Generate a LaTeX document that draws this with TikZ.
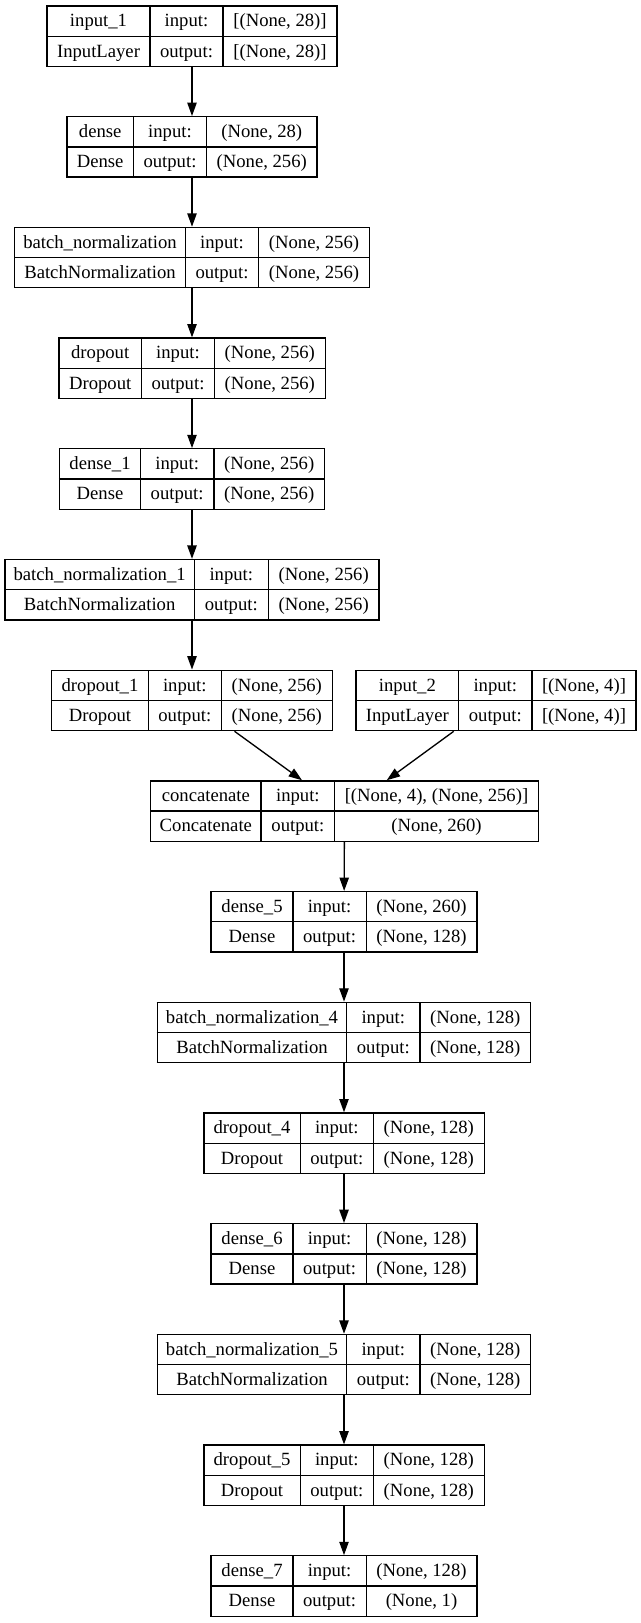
\documentclass[tikz,border=0pt]{standalone}
\usepackage{fontspec}
\setmainfont{Liberation Serif}
\usepackage{array}
\usetikzlibrary{arrows.meta}
\setlength\tabcolsep{0pt}
\setlength\arrayrulewidth{1pt}
\renewcommand\arraystretch{1.289}

\begin{document}
\begin{tikzpicture}[
  x=0.75pt, y=-0.75pt,
  font=\fontsize{14}{16.8}\selectfont,
  layer/.style={inner sep=0pt, outer sep=0pt},
  arr/.style={-{Triangle[length=10pt, width=7pt]}, line width=1pt}
]
  \useasboundingbox (0,0) rectangle (641,1623);

  \node[layer] (input1) at (192,36.2) {\begin{tabular}{|w{c}{76.25pt}|w{c}{53.75pt}|w{c}{84.5pt}|}\hline
    input\_1 & input: & [(None, 28)]\\\hline
    InputLayer & output: & [(None, 28)]\\\hline\end{tabular}};
  \node[layer] (dense) at (192,146.9) {\begin{tabular}{|w{c}{48.7pt}|w{c}{54pt}|w{c}{81.7pt}|}\hline
    dense & input: & (None, 28)\\\hline
    Dense & output: & (None, 256)\\\hline\end{tabular}};
  \node[layer] (bn) at (192,257.6) {\begin{tabular}{|w{c}{127pt}|w{c}{54pt}|w{c}{82pt}|}\hline
    batch\_normalization & input: & (None, 256)\\\hline
    BatchNormalization & output: & (None, 256)\\\hline\end{tabular}};
  \node[layer] (dropout) at (192,368.3) {\begin{tabular}{|w{c}{61pt}|w{c}{53.75pt}|w{c}{82pt}|}\hline
    dropout & input: & (None, 256)\\\hline
    Dropout & output: & (None, 256)\\\hline\end{tabular}};
  \node[layer] (dense1) at (192,479) {\begin{tabular}{|w{c}{59.75pt}|w{c}{54pt}|w{c}{82pt}|}\hline
    dense\_1 & input: & (None, 256)\\\hline
    Dense & output: & (None, 256)\\\hline\end{tabular}};
  \node[layer] (bn1) at (192,589.7) {\begin{tabular}{|w{c}{141pt}|w{c}{54.5pt}|w{c}{82pt}|}\hline
    batch\_normalization\_1 & input: & (None, 256)\\\hline
    BatchNormalization & output: & (None, 256)\\\hline\end{tabular}};
  \node[layer] (dropout1) at (192,700.4) {\begin{tabular}{|w{c}{71.5pt}|w{c}{53.75pt}|w{c}{82.25pt}|}\hline
    dropout\_1 & input: & (None, 256)\\\hline
    Dropout & output: & (None, 256)\\\hline\end{tabular}};
  \node[layer] (input2) at (496,700.4) {\begin{tabular}{|w{c}{76pt}|w{c}{54pt}|w{c}{77pt}|}\hline
    input\_2 & input: & [(None, 4)]\\\hline
    InputLayer & output: & [(None, 4)]\\\hline\end{tabular}};
  \node[layer] (concat) at (344.5,811.1) {\begin{tabular}{|w{c}{81.75pt}|w{c}{54.25pt}|w{c}{151.7pt}|}\hline
    concatenate & input: & [(None, 4), (None, 256)]\\\hline
    Concatenate & output: & (None, 260)\\\hline\end{tabular}};
  \node[layer] (dense5) at (344,921.8) {\begin{tabular}{|w{c}{60.3pt}|w{c}{54pt}|w{c}{82pt}|}\hline
    dense\_5 & input: & (None, 260)\\\hline
    Dense & output: & (None, 128)\\\hline\end{tabular}};
  \node[layer] (bn4) at (344,1032.5) {\begin{tabular}{|w{c}{141pt}|w{c}{54pt}|w{c}{82pt}|}\hline
    batch\_normalization\_4 & input: & (None, 128)\\\hline
    BatchNormalization & output: & (None, 128)\\\hline\end{tabular}};
  \node[layer] (dropout4) at (344,1143.2) {\begin{tabular}{|w{c}{71.25pt}|w{c}{54pt}|w{c}{82pt}|}\hline
    dropout\_4 & input: & (None, 128)\\\hline
    Dropout & output: & (None, 128)\\\hline\end{tabular}};
  \node[layer] (dense6) at (344,1253.9) {\begin{tabular}{|w{c}{60.3pt}|w{c}{54pt}|w{c}{82pt}|}\hline
    dense\_6 & input: & (None, 128)\\\hline
    Dense & output: & (None, 128)\\\hline\end{tabular}};
  \node[layer] (bn5) at (344,1364.6) {\begin{tabular}{|w{c}{141pt}|w{c}{54pt}|w{c}{82pt}|}\hline
    batch\_normalization\_5 & input: & (None, 128)\\\hline
    BatchNormalization & output: & (None, 128)\\\hline\end{tabular}};
  \node[layer] (dropout5) at (344,1475.3) {\begin{tabular}{|w{c}{71.25pt}|w{c}{54pt}|w{c}{82pt}|}\hline
    dropout\_5 & input: & (None, 128)\\\hline
    Dropout & output: & (None, 128)\\\hline\end{tabular}};
  \node[layer] (dense7) at (344,1586) {\begin{tabular}{|w{c}{60.3pt}|w{c}{54pt}|w{c}{82pt}|}\hline
    dense\_7 & input: & (None, 128)\\\hline
    Dense & output: & (None, 1)\\\hline\end{tabular}};

  \draw[arr] (input1) -- (dense);
  \draw[arr] (dense) -- (bn);
  \draw[arr] (bn) -- (dropout);
  \draw[arr] (dropout) -- (dense1);
  \draw[arr] (dense1) -- (bn1);
  \draw[arr] (bn1) -- (dropout1);
  \draw[arr] (dropout1) -- (concat);
  \draw[arr] (input2) -- (concat);
  \draw[arr] (concat) -- (dense5);
  \draw[arr] (dense5) -- (bn4);
  \draw[arr] (bn4) -- (dropout4);
  \draw[arr] (dropout4) -- (dense6);
  \draw[arr] (dense6) -- (bn5);
  \draw[arr] (bn5) -- (dropout5);
  \draw[arr] (dropout5) -- (dense7);
\end{tikzpicture}
\end{document}
